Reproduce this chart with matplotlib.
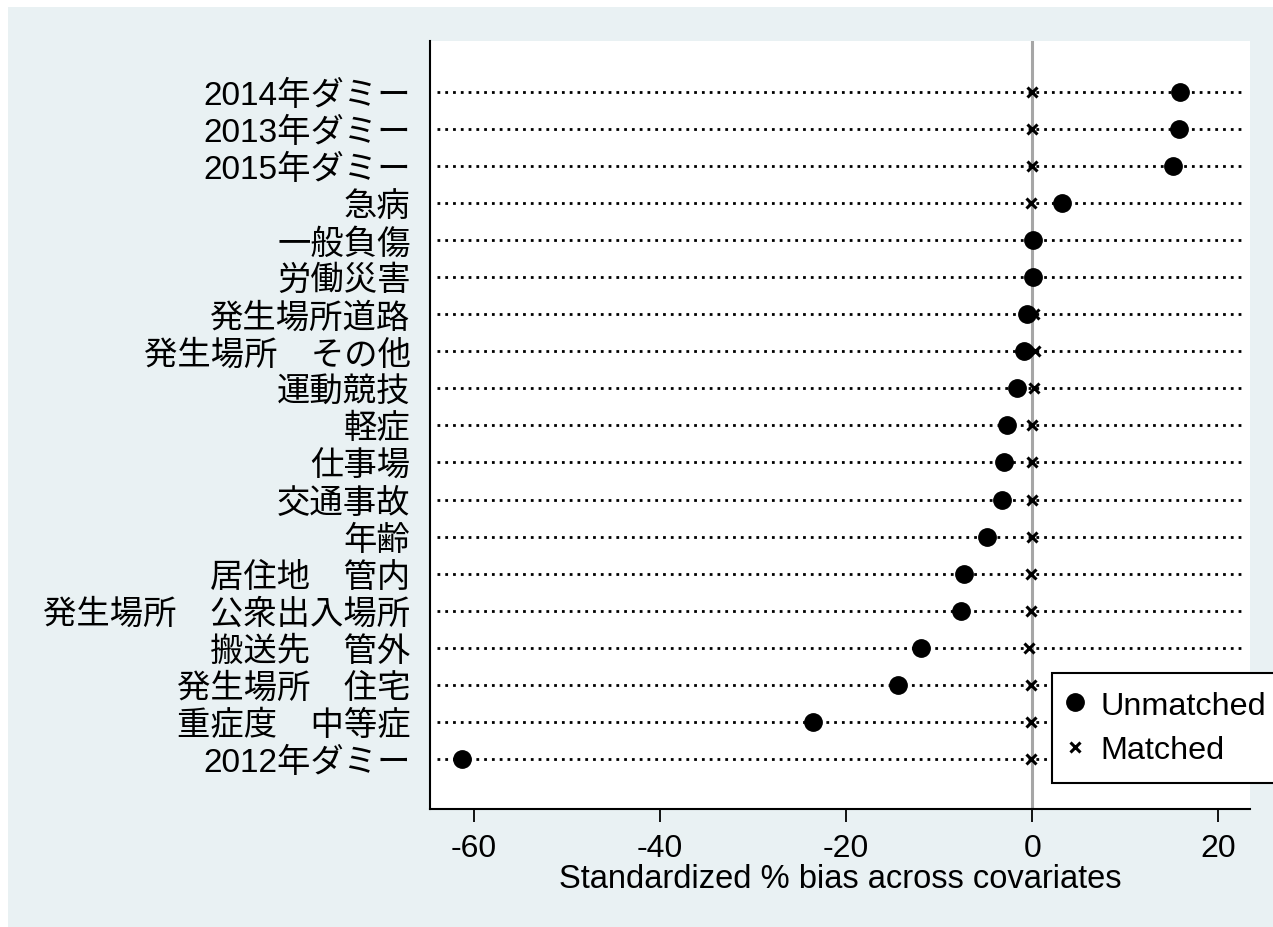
import matplotlib.pyplot as plt
from matplotlib.patches import Rectangle

plt.rcParams['font.family'] = ['Liberation Sans', 'Noto Sans CJK JP', 'DejaVu Sans']

labels = ['2014年ダミー', '2013年ダミー', '2015年ダミー', '急病', '一般負傷',
          '労働災害', '発生場所道路', '発生場所\u3000その他', '運動競技', '軽症',
          '仕事場', '交通事故', '年齢', '居住地\u3000管内', '発生場所\u3000公衆出入場所',
          '搬送先\u3000管外', '発生場所\u3000住宅', '重症度\u3000中等症', '2012年ダミー']
unmatched = [15.9, 15.8, 15.1, 3.2, 0.1, 0.1, -0.6, -0.9, -1.6, -2.7,
             -3.0, -3.2, -4.9, -7.3, -7.6, -12.0, -14.4, -23.5, -61.3]
matched = [0.0, 0.0, 0.0, -0.1, 0.0, 0.0, 0.2, 0.3, 0.2, 0.0,
           0.0, 0.0, 0.0, -0.1, -0.1, -0.3, -0.1, -0.1, -0.1]
xticks = [-60, -40, -20, 0, 20]

fig = plt.figure(figsize=(12.73, 9.28), dpi=100, facecolor='white')
# graph region background
fig.patches.append(Rectangle((8 / 1273, 0), 1, 1 - 8 / 928, transform=fig.transFigure,
                             facecolor='#E9F1F3', edgecolor='none', zorder=-10))

ax = fig.add_axes([430 / 1273, 1 - 810 / 928, 820 / 1273, 768 / 928])
ax.set_facecolor('white')

pos = list(range(1, len(labels) + 1))
for y in pos:
    ax.axhline(y, xmin=0.008, xmax=0.993, color='black', lw=2.0,
               linestyle=(0, (1, 1.8)), zorder=1)
ax.axvline(0, color='#A6A6A6', lw=2.2, zorder=2)

ax.plot(unmatched, pos, 'o', color='black', markersize=12.5, label='Unmatched', zorder=4)
ax.plot(matched, pos, 'x', color='black', markersize=7, markeredgewidth=2.2,
        label='Matched', zorder=3)

ax.set_xlim(-64.7, 23.4)
ax.set_ylim(20.35, -0.37)
ax.set_yticks(pos)
ax.set_yticklabels(labels, fontsize=24)
ax.tick_params(axis='y', length=0, pad=14)
ax.set_xticks(xticks)
ax.set_xticklabels([str(t) for t in xticks], fontsize=23)
ax.tick_params(axis='x', length=9, width=1.3, pad=8, direction='out')
ax.set_xlabel('Standardized % bias across covariates', fontsize=23.5, labelpad=0)

for s in ['top', 'right']:
    ax.spines[s].set_visible(False)
for s in ['left', 'bottom']:
    ax.spines[s].set_linewidth(1.5)

leg = fig.legend(loc='upper left', bbox_to_anchor=(1052 / 1273, 1 - 674 / 928),
                 bbox_transform=fig.transFigure, fontsize=23.3, frameon=True,
                 fancybox=False, edgecolor='black', framealpha=1,
                 handlelength=0.35, handletextpad=0.6, borderpad=0.55,
                 labelspacing=0.45, borderaxespad=0)
leg.get_frame().set_linewidth(1.5)

fig.savefig('out.png', dpi=100)
